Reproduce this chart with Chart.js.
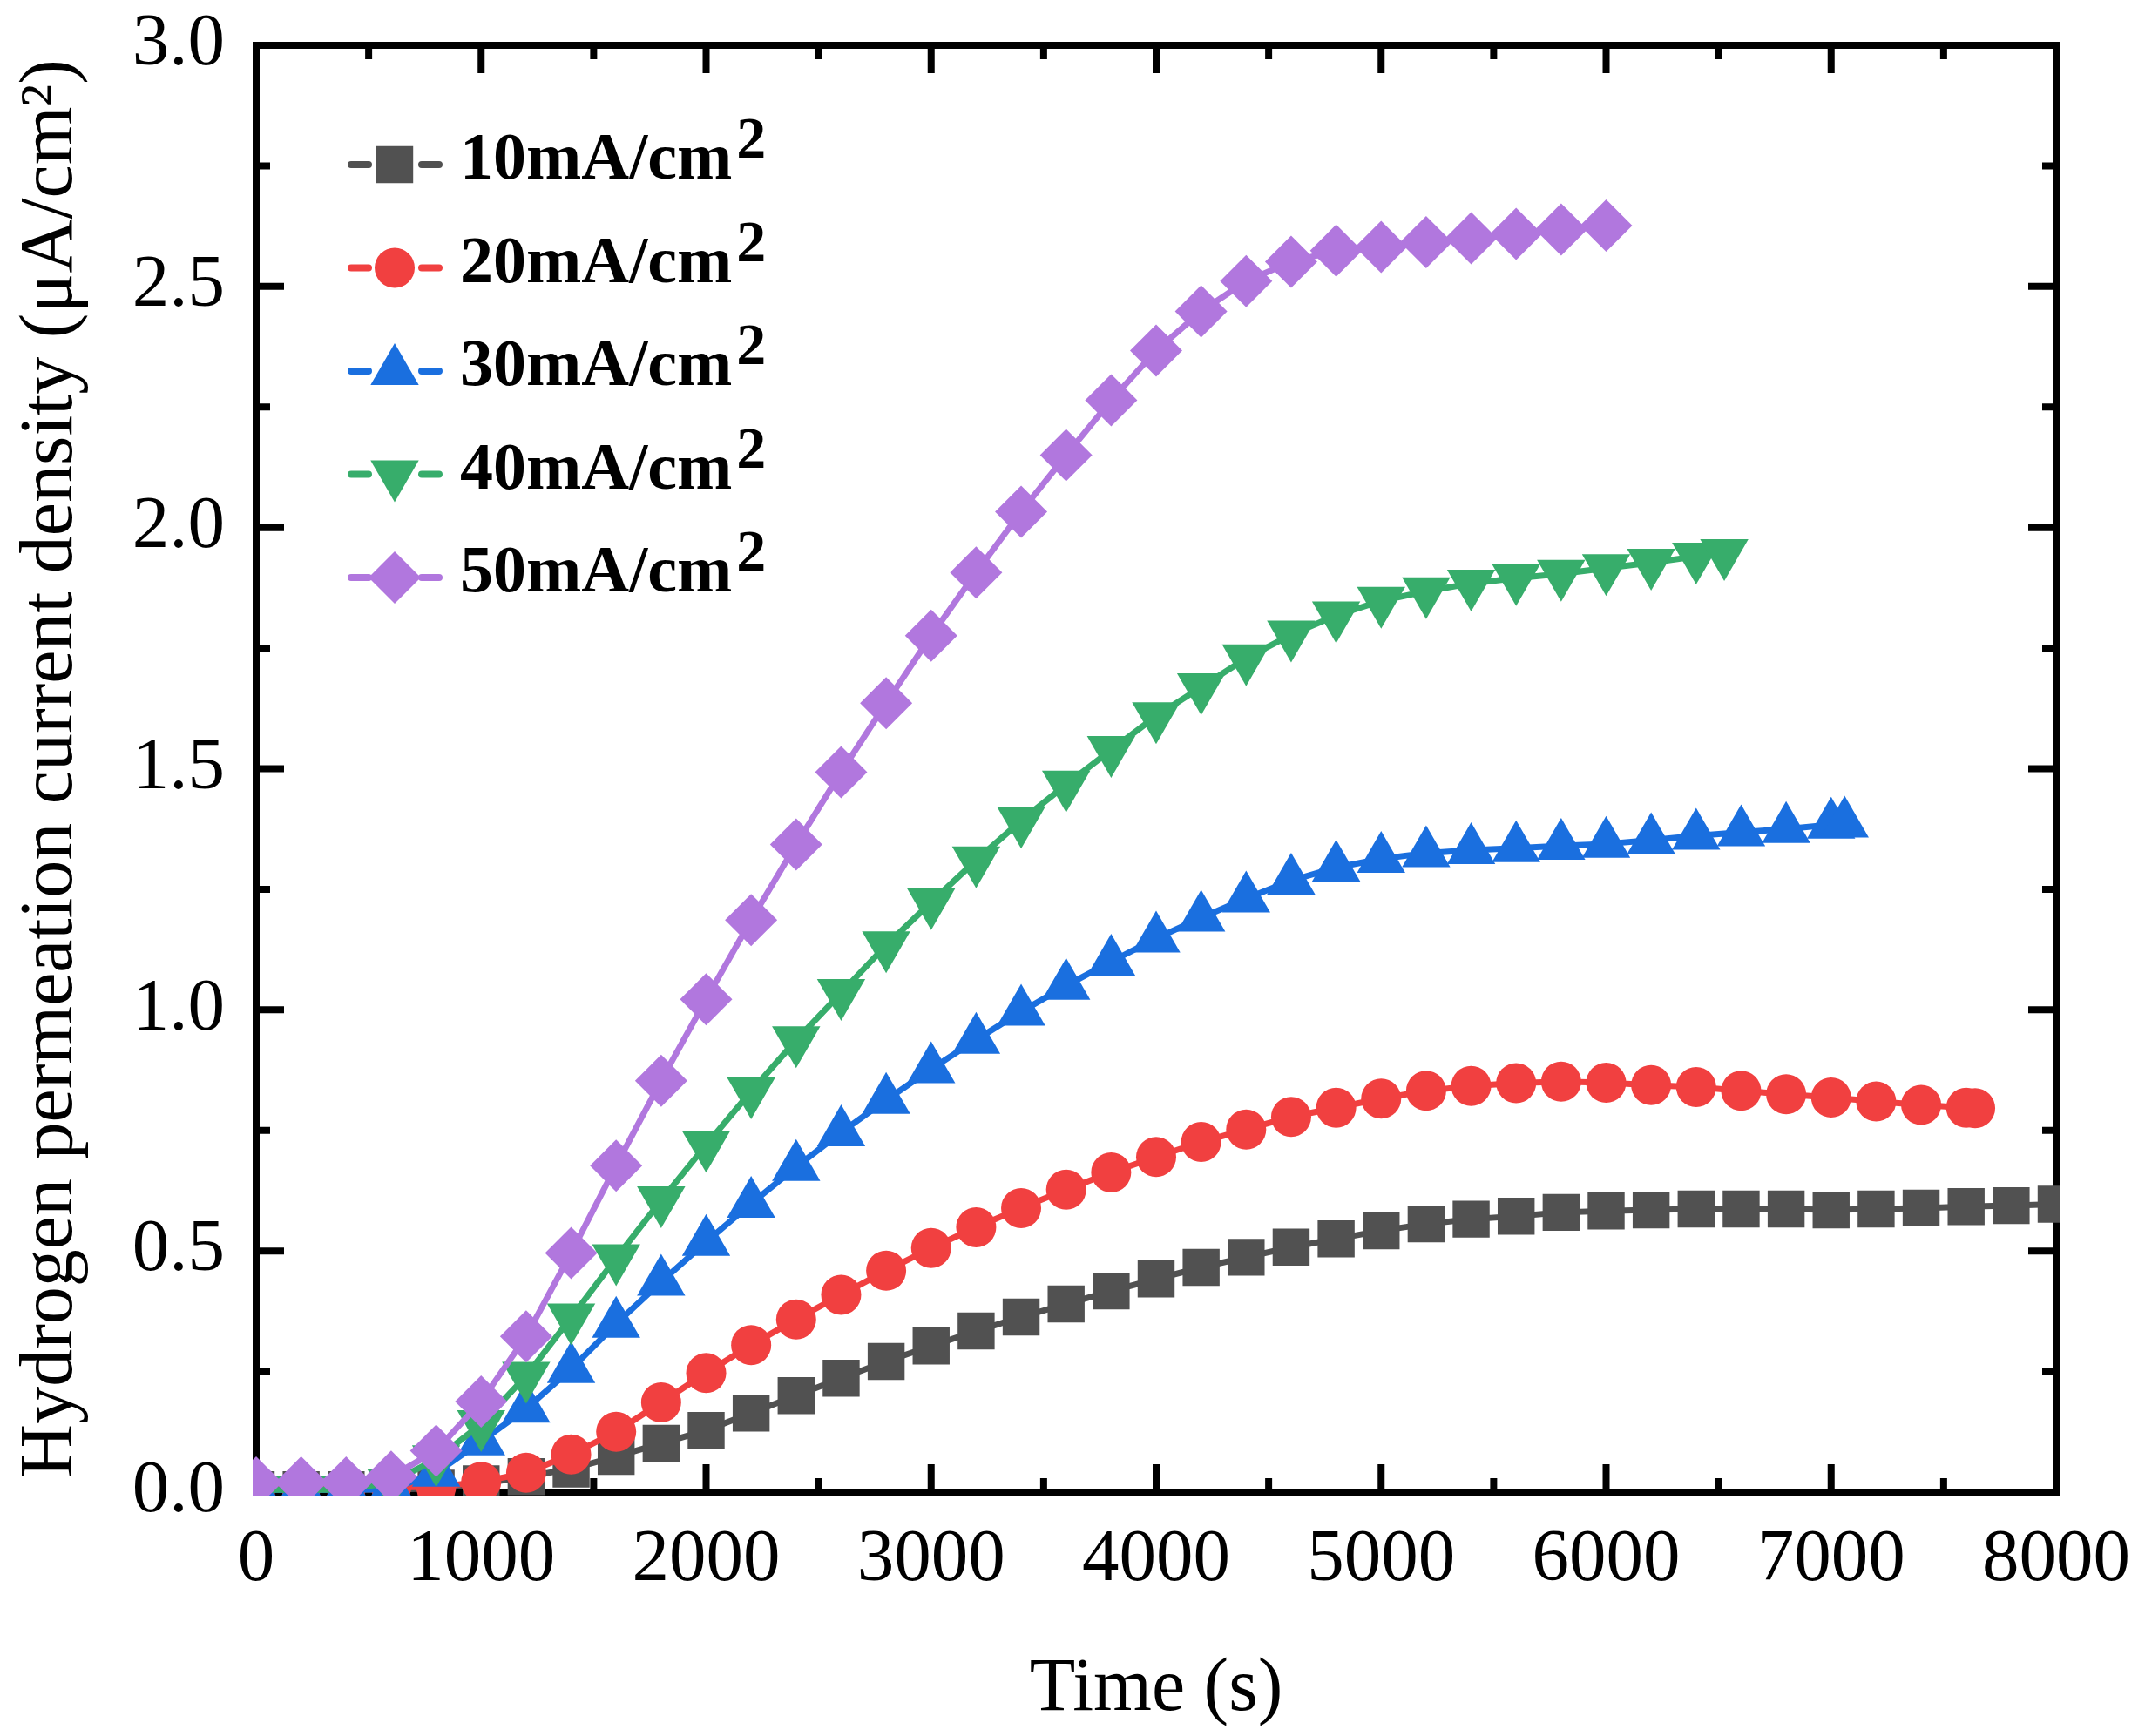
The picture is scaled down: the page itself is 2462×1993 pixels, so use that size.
<!DOCTYPE html>
<html>
<head>
<meta charset="utf-8">
<title>Hydrogen permeation</title>
<script src="https://cdn.jsdelivr.net/npm/chart.js@4.4.0/dist/chart.umd.min.js"></script>
<style>
  html, body { margin: 0; padding: 0; background: #fff; overflow: hidden; }
  #wrap { width: 2462px; height: 1993px; }
  canvas { display: block; }
</style>
</head>
<body>
<div id="wrap"><canvas id="myChart" width="2462" height="1993"></canvas></div>
<script>
// sampling times (s)
const times = [0, 200, 400, 600, 800, 1000, 1200, 1400, 1600, 1800, 2000, 2200, 2400, 2600, 2800,
  3000, 3200, 3400, 3600, 3800, 4000, 4200, 4400, 4600, 4800, 5000, 5200, 5400, 5600, 5800,
  6000, 6200, 6400, 6600, 6800, 7000, 7200, 7400, 7600, 7800, 8000];

const time10 = times;
const time20 = times.slice(0, 39).concat([7640]);
const time30 = times.slice(0, 36).concat([7060]);
const time40 = times.slice(0, 33).concat([6525]);
const time50 = times.slice(0, 31);

// permeation current density (uA/cm2)
const cur10 = [0.005, 0.005, 0.005, 0.005, 0.008, 0.017, 0.032, 0.048, 0.074, 0.101, 0.128, 0.164, 0.200, 0.236, 0.271,
  0.303, 0.334, 0.363, 0.390, 0.417, 0.442, 0.466, 0.487, 0.508, 0.525, 0.542, 0.556, 0.566, 0.572, 0.580,
  0.583, 0.585, 0.587, 0.587, 0.587, 0.585, 0.587, 0.589, 0.592, 0.594, 0.597];
const cur20 = [0.012, 0.012, 0.012, 0.010, 0.011, 0.021, 0.040, 0.078, 0.125, 0.186, 0.247, 0.305, 0.358, 0.409, 0.459,
  0.506, 0.549, 0.589, 0.627, 0.663, 0.695, 0.726, 0.752, 0.778, 0.797, 0.816, 0.832, 0.842, 0.848, 0.851,
  0.849, 0.844, 0.840, 0.832, 0.825, 0.818, 0.810, 0.803, 0.797, 0.796];
const cur30 = [0.005, 0.005, 0.005, 0.006, 0.040, 0.105, 0.173, 0.255, 0.349, 0.436, 0.519, 0.598, 0.674, 0.746, 0.813,
  0.877, 0.938, 0.996, 1.050, 1.100, 1.148, 1.191, 1.231, 1.268, 1.295, 1.313, 1.325, 1.331, 1.335, 1.340,
  1.344, 1.352, 1.361, 1.368, 1.375, 1.384, 1.386];
const cur40 = [0.005, 0.005, 0.005, 0.020, 0.068, 0.141, 0.241, 0.362, 0.485, 0.605, 0.720, 0.831, 0.937, 1.035, 1.134,
  1.223, 1.310, 1.392, 1.467, 1.539, 1.609, 1.669, 1.729, 1.778, 1.818, 1.848, 1.868, 1.884, 1.895, 1.904,
  1.916, 1.927, 1.940, 1.947];
const cur50 = [0.020, 0.020, 0.020, 0.032, 0.086, 0.188, 0.323, 0.496, 0.677, 0.853, 1.022, 1.186, 1.343, 1.493, 1.636,
  1.776, 1.907, 2.033, 2.150, 2.264, 2.367, 2.448, 2.511, 2.551, 2.574, 2.582, 2.592, 2.600, 2.609, 2.618,
  2.626];

const seriesNames = ['10mA/cm', '20mA/cm', '30mA/cm', '40mA/cm', '50mA/cm'];
const seriesSup = ['2', '2', '2', '2', '2'];
const xTicks = [0, 1000, 2000, 3000, 4000, 5000, 6000, 7000, 8000];
const yTicks = [0.0, 0.5, 1.0, 1.5, 2.0, 2.5, 3.0];

const colors = ['#515151', '#F14040', '#1A6FDF', '#37AD6B', '#B177DE'];
const shapes = ['rect', 'circle', 'triangle', 'triangle', 'rectRot'];
const rotations = [0, 0, 0, 180, 0];
const radii = [30, 23, 32, 32, 30];

const serif = '"Liberation Serif", "Times New Roman", serif';

function pairs(xs, ys) {
  return xs.map((t, i) => ({x: t, y: ys[i]}));
}

// box round the plot with inward ticks on all four sides
const framePlugin = {
  id: 'frame',
  beforeDatasetsDraw(chart) {
    const {ctx, chartArea: a, scales: {x, y}} = chart;
    const major = 32, minor = 16;
    ctx.save();
    ctx.strokeStyle = '#000';
    ctx.lineWidth = 8;
    ctx.beginPath();
    for (let i = 0; i < xTicks.length; i++) {
      const px = x.getPixelForValue(xTicks[i]);
      ctx.moveTo(px, a.bottom); ctx.lineTo(px, a.bottom - major);
      ctx.moveTo(px, a.top); ctx.lineTo(px, a.top + major);
      if (i < xTicks.length - 1) {
        const pm = x.getPixelForValue((xTicks[i] + xTicks[i + 1]) / 2);
        ctx.moveTo(pm, a.bottom); ctx.lineTo(pm, a.bottom - minor);
        ctx.moveTo(pm, a.top); ctx.lineTo(pm, a.top + minor);
      }
    }
    for (let i = 0; i < yTicks.length; i++) {
      const py = y.getPixelForValue(yTicks[i]);
      ctx.moveTo(a.left, py); ctx.lineTo(a.left + major, py);
      ctx.moveTo(a.right, py); ctx.lineTo(a.right - major, py);
      if (i < yTicks.length - 1) {
        const pm = y.getPixelForValue((yTicks[i] + yTicks[i + 1]) / 2);
        ctx.moveTo(a.left, pm); ctx.lineTo(a.left + minor, pm);
        ctx.moveTo(a.right, pm); ctx.lineTo(a.right - minor, pm);
      }
    }
    ctx.stroke();
    ctx.lineJoin = 'miter';
    ctx.strokeRect(a.left, a.top, a.right - a.left, a.bottom - a.top);
    ctx.restore();
  }
};

// legend inside the plot, with a raised "2"
const legendPlugin = {
  id: 'insideLegend',
  afterDraw(chart) {
    const {ctx, chartArea: a} = chart;
    const x0 = a.left;
    chart.data.datasets.forEach((ds, i) => {
      const cy = a.top + 137 + i * 118.5;
      const cx = x0 + 159;
      ctx.save();
      ctx.strokeStyle = ds.borderColor;
      ctx.lineWidth = 8;
      ctx.lineCap = 'round';
      ctx.beginPath();
      ctx.moveTo(x0 + 109, cy); ctx.lineTo(x0 + 129, cy);
      ctx.moveTo(x0 + 190, cy); ctx.lineTo(x0 + 210, cy);
      ctx.stroke();
      ctx.fillStyle = ds.pointBackgroundColor;
      Chart.helpers.drawPoint(ctx, {
        pointStyle: ds.pointStyle,
        radius: ds.pointRadius,
        rotation: ds.pointRotation,
        borderWidth: 0
      }, cx, cy);
      ctx.fillStyle = '#000';
      ctx.textBaseline = 'alphabetic';
      ctx.textAlign = 'left';
      ctx.font = 'bold 76px ' + serif;
      const base = cy + 16;
      ctx.fillText(seriesNames[i], x0 + 234, base);
      const w = ctx.measureText(seriesNames[i]).width;
      ctx.font = 'bold 68px ' + serif;
      ctx.fillText(seriesSup[i], x0 + 234 + w + 5, base - 24);
      ctx.restore();
    });
  }
};

function makeChart() {
  const ctx = document.getElementById('myChart').getContext('2d');
  const xs = [time10, time20, time30, time40, time50];
  const ys = [cur10, cur20, cur30, cur40, cur50];

  const datasets = ys.map((vals, i) => ({
    label: seriesNames[i] + seriesSup[i],
    data: pairs(xs[i], vals),
    borderColor: colors[i],
    backgroundColor: colors[i],
    pointBackgroundColor: colors[i],
    borderWidth: 7,
    pointStyle: shapes[i],
    pointRotation: rotations[i],
    pointRadius: radii[i],
    pointBorderWidth: 0,
    pointHoverRadius: radii[i],
    tension: 0,
    clip: 4,
    order: 5 - i
  }));

  const myChartConfig = {
    type: 'line',
    data: {datasets: datasets},
    options: {
      responsive: false,
      maintainAspectRatio: false,
      animation: false,
      devicePixelRatio: 1,
      layout: {padding: {top: 52, right: 102, left: 0, bottom: 0}},
      plugins: {
        legend: {display: false},
        tooltip: {enabled: false}
      },
      scales: {
        x: {
          type: 'linear',
          min: 0,
          max: 8000,
          afterFit(scale) {
            scale.height = 280;
            scale.paddingLeft = 0;
            scale.paddingRight = 0;
          },
          afterBuildTicks(scale) { scale.ticks = xTicks.map(v => ({value: v})); },
          grid: {display: false, drawTicks: false},
          border: {display: false},
          ticks: {
            color: '#000',
            padding: 28,
            maxRotation: 0,
            autoSkip: false,
            font: {family: serif, size: 85},
            callback: v => String(v)
          },
          title: {
            display: true,
            text: 'Time (s)',
            color: '#000',
            padding: {top: 0, bottom: 1},
            font: {family: serif, size: 86}
          }
        },
        y: {
          min: 0,
          max: 3,
          afterFit(scale) {
            scale.width = 294;
            scale.paddingTop = 0;
            scale.paddingBottom = 0;
          },
          afterBuildTicks(scale) { scale.ticks = yTicks.map(v => ({value: v})); },
          grid: {display: false, drawTicks: false},
          border: {display: false},
          ticks: {
            color: '#000',
            padding: 36,
            autoSkip: false,
            font: {family: serif, size: 85},
            callback: v => Number(v).toFixed(1)
          },
          title: {
            display: true,
            text: 'Hydrogen permeation current density (\u03bcA/cm\u00b2)',
            color: '#000',
            padding: {top: 8, bottom: 0},
            font: {family: serif, size: 86}
          }
        }
      }
    },
    plugins: [framePlugin, legendPlugin]
  };

  const myChart = new Chart(ctx, myChartConfig);
}

document.addEventListener('DOMContentLoaded', makeChart);
</script>
</body>
</html>
